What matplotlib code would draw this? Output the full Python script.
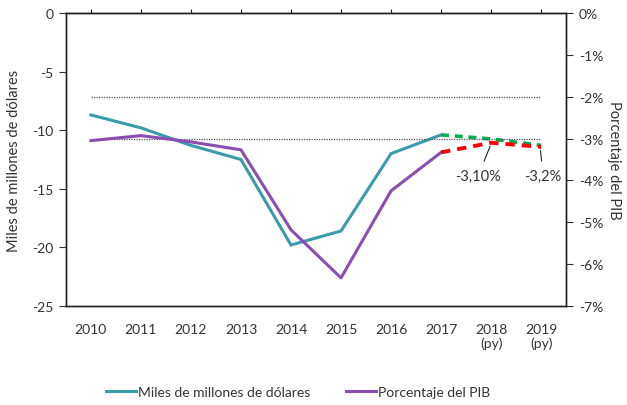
import numpy as np
import matplotlib.pyplot as plt

plt.rcParams['font.family'] = ['Lato', 'DejaVu Sans']
plt.rcParams['axes.unicode_minus'] = False

years = ['2010', '2011', '2012', '2013', '2014', '2015', '2016', '2017', '2018\n(py)', '2019\n(py)']
# miles de millones de dolares (2010-2017 observados, 2018-2019 proyectados)
usd_obs = [-8.7, -9.8, -11.3, -12.5, -19.8, -18.6, -12.0, -10.4]
usd_proj = [-10.4, -10.75, -11.3]
# porcentaje del PIB
pib_obs = [-3.05, -2.93, -3.08, -3.27, -5.18, -6.33, -4.25, -3.33]
pib_proj = [-3.33, -3.10, -3.20]
ref_lines = [-2, -3]

teal = '#3A9BAA'
purple = '#8B4DB0'
txt = '#333333'

fig = plt.figure(figsize=(6.27, 4.06), dpi=100)
ax = fig.add_axes([0.105, 0.244, 0.798, 0.7215])
ax2 = ax.twinx()

x = np.arange(len(years))
ax.plot(x[:8], usd_obs, color=teal, lw=2.2, solid_joinstyle='miter', label='Miles de millones de dólares')
ax.plot(x[7:], usd_proj, color='#00B050', lw=2.6, dashes=(2.2, 1.6))
ax.set_ylim(-25, 0)
ax.set_yticks(np.arange(-25, 1, 5))
ax.set_xlim(-0.5, 9.5)
ax.set_xticks(x)
ax.set_xticklabels(years)
ax.tick_params(axis='x', length=0, pad=12, labelsize=10, colors=txt)
ax.tick_params(axis='y', length=5, direction='out', labelsize=10, colors=txt, pad=4)
ax.set_ylabel('Miles de millones de dólares', fontsize=10.5, color=txt, labelpad=8)

ax2.hlines(ref_lines, 0, 9, colors='#555555', linestyles=(0, (1, 1)), lw=0.9)
ax2.plot(x[:8], pib_obs, color=purple, lw=2.2, label='Porcentaje del PIB')
ax2.plot(x[7:], pib_proj, color='#FF0000', lw=2.8, dashes=(2.4, 1.8))
ax2.set_ylim(-7, 0)
ax2.set_yticks(np.arange(-7, 1, 1))
ax2.set_yticklabels([f'{v}%' for v in range(-7, 1)])
ax2.tick_params(axis='y', length=5, direction='out', labelsize=10, colors=txt, pad=4)
ax2.set_ylabel('Porcentaje del PIB', fontsize=10.5, color=txt, rotation=270, labelpad=13)

# ticks on the top (zero) line
top = ax.secondary_xaxis('top')
top.set_xticks(x)
top.set_xticklabels([])
top.tick_params(length=3, direction='out', color='#222222')

for a in (ax, ax2):
    for s in a.spines.values():
        s.set_color('#222222')
        s.set_linewidth(1.0)

ax2.annotate('-3,10%', xy=(8, -3.12), xytext=(7.74, -3.9), ha='center', va='center',
             fontsize=10.5, color=txt, arrowprops=dict(arrowstyle='-', color='#222222', lw=0.8, shrinkA=4))
ax2.annotate('-3,2%', xy=(8.98, -3.22), xytext=(9.04, -3.9), ha='center', va='center',
             fontsize=10.5, color=txt, arrowprops=dict(arrowstyle='-', color='#222222', lw=0.8, shrinkA=4))

h1, l1 = ax.get_legend_handles_labels()
h2, l2 = ax2.get_legend_handles_labels()
fig.legend(h1 + h2, l1 + l2, loc='center', bbox_to_anchor=(0.475, 0.032), ncol=2, frameon=False,
           fontsize=10, handlelength=2.2, handletextpad=0.1, columnspacing=2.6, labelcolor=txt)

fig.savefig('out.png', dpi=100)
